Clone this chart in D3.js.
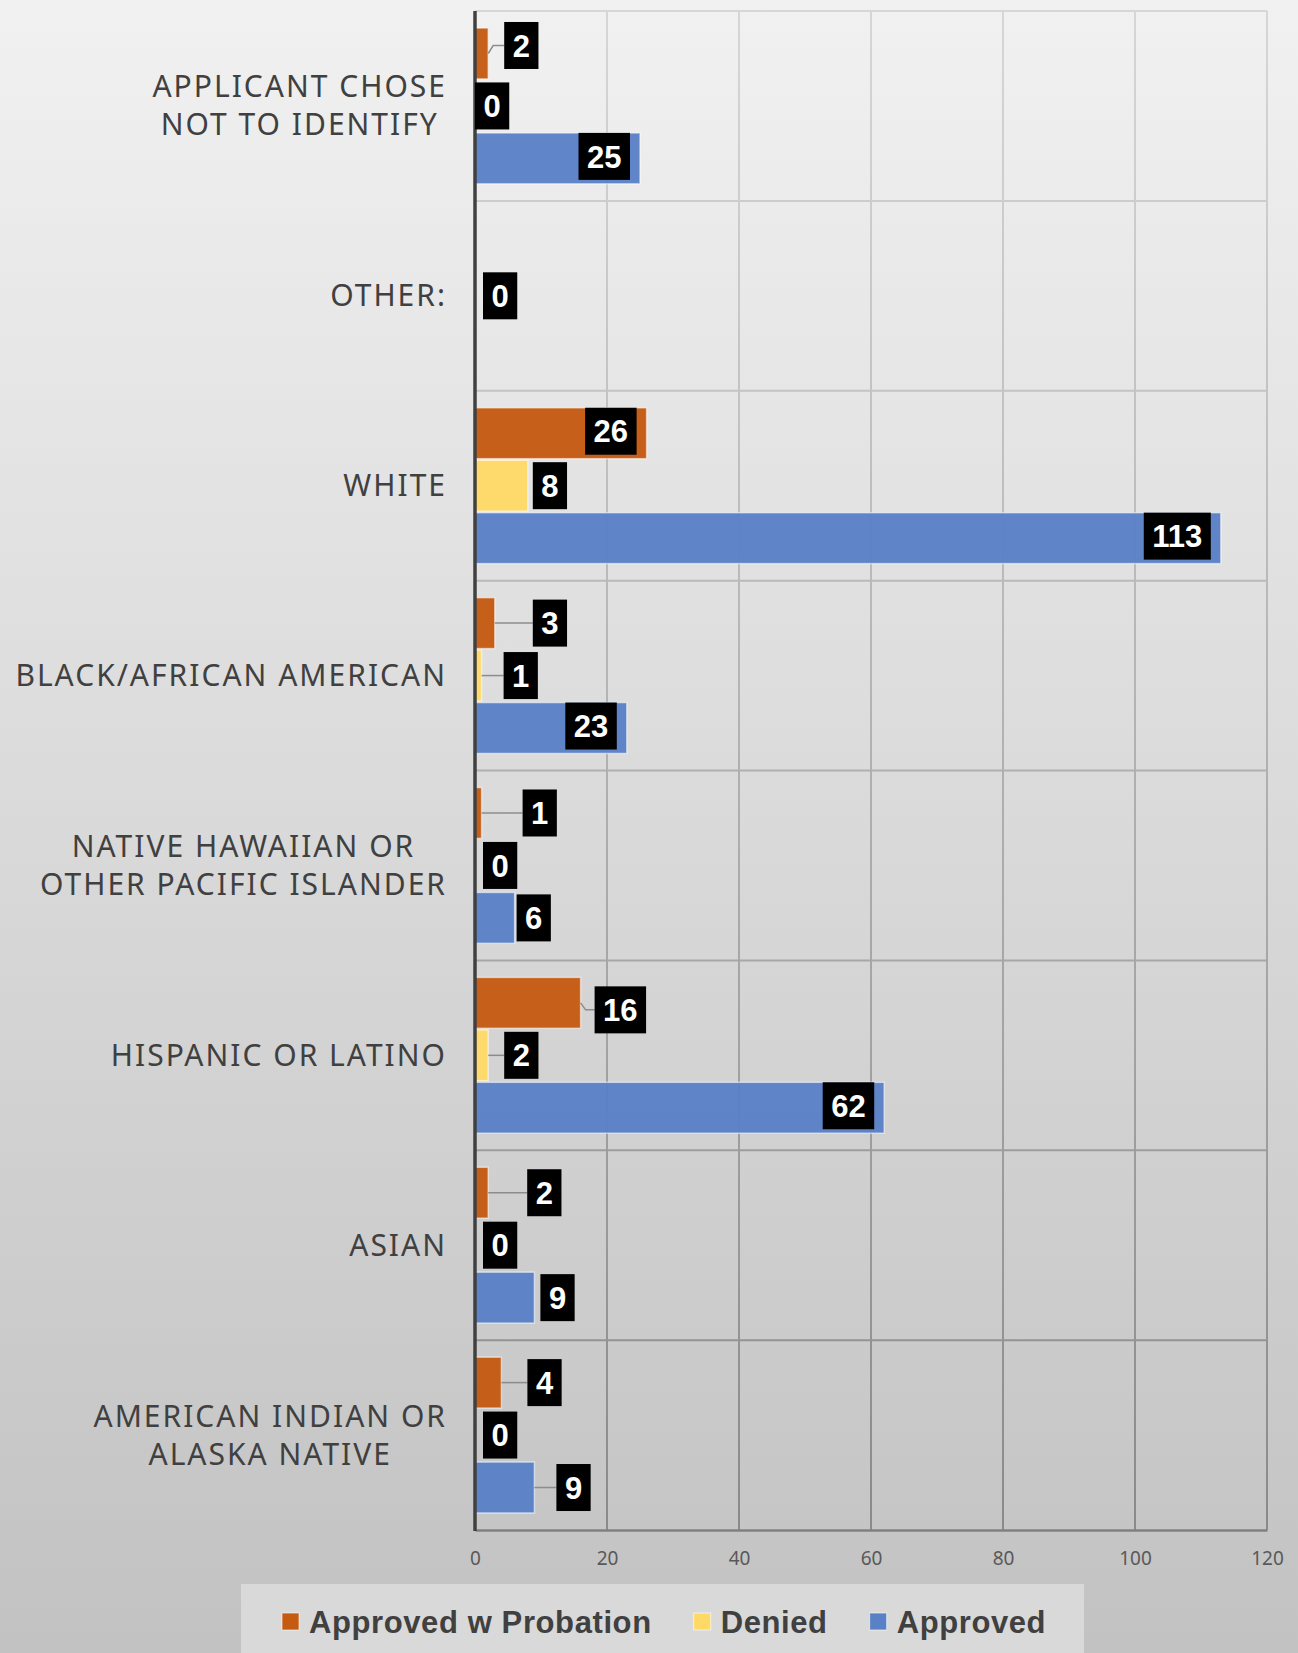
<!DOCTYPE html>
<html>
<head>
<meta charset="utf-8">
<script src="https://cdn.jsdelivr.net/npm/d3@7"></script>
<style>
  body { margin: 0; padding: 0; background: #fff; }
  svg { display: block; }
</style>
</head>
<body>
<div class="barChart"></div>
<script>
// categories, top to bottom as drawn
var categories = [
  'APPLICANT CHOSE NOT TO IDENTIFY',
  'OTHER:',
  'WHITE',
  'BLACK/AFRICAN AMERICAN',
  'NATIVE HAWAIIAN OR OTHER PACIFIC ISLANDER',
  'HISPANIC OR LATINO',
  'ASIAN',
  'AMERICAN INDIAN OR ALASKA NATIVE'
];
// wrapped lines for the axis labels
var categoryLines = [
  ['APPLICANT CHOSE', 'NOT TO IDENTIFY'],
  ['OTHER:'],
  ['WHITE'],
  ['BLACK/AFRICAN AMERICAN'],
  ['NATIVE HAWAIIAN OR', 'OTHER PACIFIC ISLANDER'],
  ['HISPANIC OR LATINO'],
  ['ASIAN'],
  ['AMERICAN INDIAN OR', 'ALASKA NATIVE']
];

var seriesNames = ['Approved w Probation', 'Denied', 'Approved'];
var probation = [2, 0, 26, 3, 1, 16, 2, 4];
var denied    = [0, 0, 8, 1, 0, 2, 0, 0];
var approved  = [25, 0, 113, 23, 6, 62, 9, 9];

var tickValues = [0, 20, 40, 60, 80, 100, 120];

// label placement (Excel labels were dragged by hand): 'in' = inside end,
// null = no label, [dx, dy] = box left offset from bar end and vertical shift
var labelPlace = [
  [[16, -8], null, 'in', [38, 0], [41, 0], [14, 7], [39, 0], [26, 0]],
  [[0, 0], [8, 0], [5, 0], [22, 0], [8, 0], [16, 0], [8, 0], [8, 0]],
  ['in', null, 'in', 'in', [2, 0], 'in', [6, 0], [22, 0]]
];

var colors = ['#c55a11', '#ffd966', '#5a80c6'];

var W = 1298, H = 1653;
var plot = { left: 475, right: 1267, top: 11, bottom: 1530 };

var svg = d3.select('.barChart')
  .append('svg')
    .attr('width', W)
    .attr('height', H);

var defs = svg.append('defs');
var bg = defs.append('linearGradient').attr('id', 'bgGrad')
  .attr('x1', 0).attr('y1', 0).attr('x2', 0).attr('y2', 1);
bg.append('stop').attr('offset', '0%').attr('stop-color', '#f1f1f1');
bg.append('stop').attr('offset', '100%').attr('stop-color', '#c2c2c2');

var gg = defs.append('linearGradient').attr('id', 'gridGrad')
  .attr('gradientUnits', 'userSpaceOnUse')
  .attr('x1', 0).attr('y1', plot.top).attr('x2', 0).attr('y2', plot.bottom);
gg.append('stop').attr('offset', '0%').attr('stop-color', '#d6d6d6');
gg.append('stop').attr('offset', '100%').attr('stop-color', '#8a8a8a');

svg.append('rect')
  .attr('width', W).attr('height', H)
  .attr('fill', 'url(#bgGrad)');

var xScale = d3.scaleLinear()
  .domain([0, 120])
  .range([plot.left, plot.right]);

var yScale = d3.scaleBand()
  .domain(categories)
  .range([plot.top, plot.bottom]);

var ySub = d3.scaleBand()
  .domain(seriesNames)
  .range([0, yScale.bandwidth()])
  .paddingInner(0.03)
  .paddingOuter(0.325);

// gridlines
svg.append('g').selectAll('line.vgrid')
  .data(tickValues.slice(1))
  .enter().append('line')
    .attr('x1', d => xScale(d)).attr('x2', d => xScale(d))
    .attr('y1', plot.top).attr('y2', plot.bottom)
    .attr('stroke', 'url(#gridGrad)')
    .attr('stroke-width', 2);

svg.append('g').selectAll('line.hgrid')
  .data(categories)
  .enter().append('line')
    .attr('x1', plot.left).attr('x2', plot.right)
    .attr('y1', d => yScale(d)).attr('y2', d => yScale(d))
    .attr('stroke', 'url(#gridGrad)')
    .attr('stroke-width', 2);

// bottom axis
var xAxis = d3.axisBottom(xScale)
  .tickValues(tickValues)
  .tickSize(0)
  .tickPadding(22);
var gx = svg.append('g')
  .attr('transform', `translate(0, ${plot.bottom})`)
  .call(xAxis);
gx.select('.domain').attr('stroke', '#808080').attr('stroke-width', 2.5);
gx.selectAll('text')
  .attr('font-family', 'Noto Sans, sans-serif')
  .attr('font-size', 19)
  .attr('fill', '#595959');

// bars
var seriesData = [probation, denied, approved];
var barGroup = svg.append('g');
seriesData.forEach(function (vals, s) {
  barGroup.selectAll('rect.s' + s)
    .data(vals)
    .enter().append('rect')
      .attr('x', xScale(0))
      .attr('y', (d, i) => yScale(categories[i]) + ySub(seriesNames[s]))
      .attr('width', d => xScale(d) - xScale(0))
      .attr('height', ySub.bandwidth())
      .attr('fill', colors[s])
      .attr('fill-opacity', 0.96)
      .attr('stroke', d => d > 0 ? 'rgba(255,255,255,0.55)' : 'none')
      .attr('stroke-width', 1.5);
});

// left axis line
svg.append('line')
  .attr('x1', plot.left).attr('x2', plot.left)
  .attr('y1', plot.top).attr('y2', plot.bottom + 1)
  .attr('stroke', '#404040')
  .attr('stroke-width', 3.5);

// category labels
var catG = svg.append('g')
  .attr('font-family', 'Noto Sans, sans-serif')
  .attr('font-size', 30)
  .attr('letter-spacing', 2)
  .attr('fill', '#404040');
categoryLines.forEach(function (lines, i) {
  var cy = yScale(categories[i]) + yScale.bandwidth() / 2;
  var lh = 38;
  var texts = lines.map(function (ln, k) {
    return catG.append('text')
      .attr('y', cy + (k - (lines.length - 1) / 2) * lh)
      .attr('dy', '0.35em')
      .text(ln);
  });
  var wMax = d3.max(texts, t => t.node().getComputedTextLength());
  var cx = 447 - wMax / 2;
  texts.forEach(t => t.attr('x', cx).attr('text-anchor', 'middle'));
});

// data labels
var labG = svg.append('g');
seriesData.forEach(function (vals, s) {
  vals.forEach(function (v, i) {
    var place = labelPlace[s][i];
    if (place === null) return;
    var barEnd = xScale(v);
    var barMid = yScale(categories[i]) + ySub(seriesNames[s]) + ySub.bandwidth() / 2;
    var g = labG.append('g');
    var rect = g.append('rect').attr('fill', '#000');
    var t = g.append('text')
      .attr('font-family', 'Liberation Sans, Arial, sans-serif')
      .attr('font-weight', 'bold')
      .attr('font-size', 31)
      .attr('fill', '#fff')
      .attr('text-anchor', 'middle')
      .attr('dy', '0.36em')
      .text(v);
    var bw = t.node().getComputedTextLength() + 17;
    var bh = 47;
    var left, cy;
    if (place === 'in') {
      left = barEnd - 10 - bw;
      cy = barMid - 2;
    } else {
      left = barEnd + place[0];
      cy = barMid + place[1];
      if (place[0] > 10) {
        g.insert('path', 'rect')
          .attr('d', d3.line()([[barEnd, barMid], [barEnd + 5, cy], [left, cy]]))
          .attr('fill', 'none')
          .attr('stroke', '#8c8c8c')
          .attr('stroke-width', 1.5);
      }
    }
    rect.attr('x', left).attr('y', cy - bh / 2).attr('width', bw).attr('height', bh);
    t.attr('x', left + bw / 2).attr('y', cy);
  });
});

// legend
var legend = svg.append('g');
legend.append('rect')
  .attr('x', 241).attr('y', 1584)
  .attr('width', 843).attr('height', 75)
  .attr('fill', '#d9d9d9');
var lx = 282;
seriesNames.forEach(function (name, s) {
  legend.append('rect')
    .attr('x', lx).attr('y', 1613)
    .attr('width', 17).attr('height', 17)
    .attr('fill', colors[s])
    .attr('stroke', 'rgba(255,255,255,0.6)')
    .attr('stroke-width', 1);
  var t = legend.append('text')
    .attr('x', lx + 27).attr('y', 1622)
    .attr('dy', '0.35em')
    .attr('font-family', 'Liberation Sans, Arial, sans-serif')
    .attr('font-weight', 'bold')
    .attr('font-size', 31)
    .attr('letter-spacing', 0.6)
    .attr('fill', '#404040')
    .text(name);
  lx += 27 + t.node().getComputedTextLength() + 42;
});
</script>
</body>
</html>
